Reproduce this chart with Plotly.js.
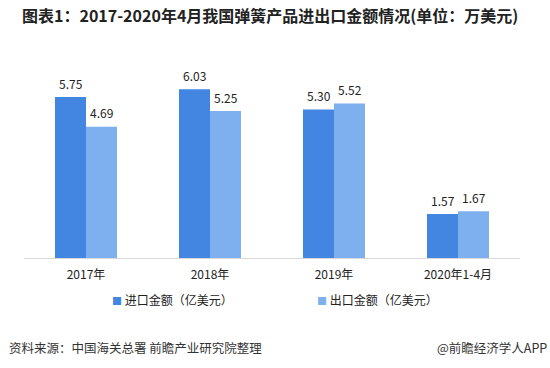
<!DOCTYPE html>
<html>
<head>
<meta charset="utf-8">
<script src="https://cdn.plot.ly/plotly-3.0.1.min.js"></script>
<style>
html,body{margin:0;padding:0;background:#fff;}
#chart{width:550px;height:368px;}
</style>
</head>
<body>
<div id="chart"></div>
<script>
const categories = ["2017年", "2018年", "2019年", "2020年1-4月"];
const importValues = [5.75, 6.03, 5.30, 1.57];
const exportValues = [4.69, 5.25, 5.52, 1.67];
const seriesNames = ["进口金额（亿美元）", "出口金额（亿美元）"];
const seriesColors = ["#4286e2", "#7eb0f0"];
const titleText = "图表1：2017-2020年4月我国弹簧产品进出口金额情况(单位：万美元)";
const sourceText = "资料来源：中国海关总署 前瞻产业研究院整理";
const brandText = "@前瞻经济学人APP";

const FONT = "'Noto Sans CJK SC', 'Microsoft YaHei', sans-serif";

const traces = [importValues, exportValues].map((vals, i) => ({
  type: "bar", name: seriesNames[i], x: categories, y: vals,
  marker: {color: seriesColors[i]},
  hoverinfo: "none", showlegend: false
}));

// value labels (positioned via the axes, offset to each bar in the group)
const labelAnns = [];
[importValues, exportValues].forEach((vals, i) => {
  vals.forEach((v, j) => {
    labelAnns.push({
      x: categories[j], y: v, xref: "x", yref: "y",
      text: v.toFixed(2), showarrow: false,
      xshift: i === 0 ? -15.5 : 15.5, yshift: 14, yanchor: "middle",
      font: {size: 12, color: "#222", family: FONT}
    });
  });
});

// legend entries
const legendX = [110, 315];
const legendAnns = seriesNames.map((n, i) => ({
  xref: "paper", yref: "paper",
  x: (legendX[i] - 24) / 496, xanchor: "left",
  y: -41 / 196, yanchor: "middle", showarrow: false,
  text: "<span style='color:" + seriesColors[i] + ";font-size:10px'>■</span> " + n,
  font: {size: 12, color: "#222", family: FONT}
}));

const layout = {
  width: 550, height: 368,
  margin: {l: 24, r: 30, t: 62, b: 110},
  paper_bgcolor: "#fff", plot_bgcolor: "#fff",
  font: {family: FONT, color: "#222", size: 12},
  title: {
    text: "<b>" + titleText + "</b>",
    x: 0.04, xanchor: "left", xref: "container", y: 0.955, yanchor: "middle",
    font: {size: 16, color: "#222", family: FONT}
  },
  barmode: "group", bargap: 0.5, bargroupgap: 0,
  xaxis: {
    type: "category", showline: true, linecolor: "#d9d9d9", linewidth: 1,
    ticks: "", showgrid: false, zeroline: false, ticklabelstandoff: 6,
    tickfont: {size: 12, color: "#222", family: FONT}
  },
  yaxis: {range: [0, 7], visible: false, showgrid: false, zeroline: false},
  showlegend: false,
  annotations: labelAnns.concat(legendAnns, [
    {text: sourceText, xref: "paper", yref: "paper", x: -0.035, xanchor: "left",
     y: -0.455, yanchor: "middle", showarrow: false,
     font: {size: 12.5, color: "#333", family: FONT}},
    {text: brandText, xref: "paper", yref: "paper", x: 1.058, xanchor: "right",
     y: -0.455, yanchor: "middle", showarrow: false,
     font: {size: 12.5, color: "#333", family: FONT}}
  ])
};

Plotly.newPlot("chart", traces, layout, {staticPlot: true, displayModeBar: false});
</script>
</body>
</html>
